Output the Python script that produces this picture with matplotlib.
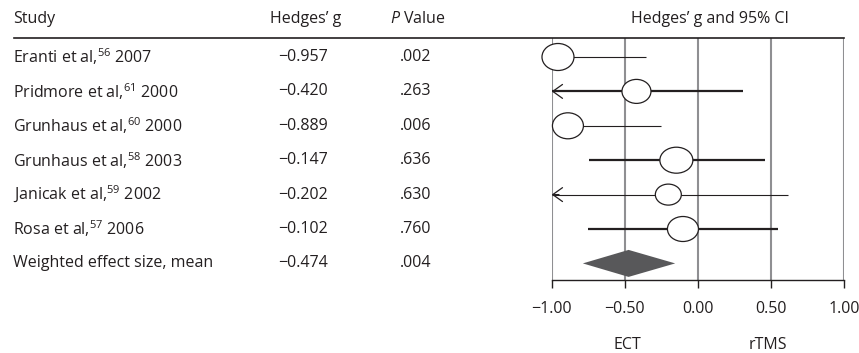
import numpy as np
import matplotlib.pyplot as plt
from matplotlib.patches import Ellipse, Polygon
from matplotlib.lines import Line2D
import matplotlib.transforms as mtransforms

plt.rcParams['font.family'] = ['Open Sans', 'DejaVu Sans']
plt.rcParams['mathtext.fontset'] = 'custom'
plt.rcParams['mathtext.rm'] = 'Open Sans'
plt.rcParams['mathtext.it'] = 'Open Sans:italic'

# Study data
authors = ['Eranti et al,', 'Pridmore et al,', 'Grunhaus et al,', 'Grunhaus et al,',
           'Janicak et al,', 'Rosa et al,']
refs = ['56', '61', '60', '58', '59', '57']
years = ['2007', '2000', '2000', '2003', '2002', '2006']
hedges_g = [-0.957, -0.420, -0.889, -0.147, -0.202, -0.102]
p_values = ['.002', '.263', '.006', '.636', '.630', '.760']
ci_lower = [-0.957, -1.00, -0.889, -0.748, -1.00, -0.755]
ci_upper = [-0.354, 0.308, -0.251, 0.460, 0.616, 0.547]
off_scale = [False, True, False, False, True, False]

pooled_label = 'Weighted effect size, mean'
pooled_g = -0.474
pooled_lower = -0.787
pooled_upper = -0.155
pooled_p = '.004'

ticks = [-1.0, -0.5, 0.0, 0.5, 1.0]

# marker look (pixels) and line weights
circle_px = [(32, 27), (29, 24), (31, 26), (33, 26), (26, 21), (31, 25)]
thick = [False, True, False, True, False, True]

ink = '#231f20'
grid_c = '#8f8f92'

W, H = 859, 353
fig = plt.figure(figsize=(W / 100, H / 100), dpi=100)

ax_l, ax_r, ax_t, ax_b = 551.7, 844.0, 38.0, 280.0
ax = fig.add_axes([ax_l / W, 1 - ax_b / H, (ax_r - ax_l) / W, (ax_b - ax_t) / H])
ax.set_xlim(-1, 1)
row0, row_gap = 57.0, 34.4
ax.set_ylim((ax_b - row0) / row_gap, (ax_t - row0) / row_gap)

fs = 11.5

for s in ['top', 'left', 'right']:
    ax.spines[s].set_visible(False)
ax.spines['bottom'].set_color(ink)
ax.spines['bottom'].set_linewidth(1.0)
ax.set_yticks([])
ax.set_xticks(ticks)
ax.set_xticklabels(['\u22121.00', '\u22120.50', '0.00', '0.50', '1.00'])
ax.tick_params(axis='x', direction='out', length=6, width=1.0, color=ink,
               labelsize=fs, labelcolor=ink, pad=9)

for t in ticks:
    ax.axvline(t, color=grid_c, lw=1.5, zorder=1)

px_per_x = (ax_r - ax_l) / 2.0

for i in range(len(hedges_g)):
    lw = 1.6 if thick[i] else 0.8
    if off_scale[i]:
        ax.plot([ci_lower[i], ci_upper[i]], [i, i], color=ink, lw=lw, zorder=2,
                solid_capstyle='butt')
        # open arrowhead at the clipped end
        ax.annotate('', xy=(ci_lower[i], i), xytext=(ci_lower[i] + 0.05, i),
                    arrowprops=dict(arrowstyle='->,head_length=0.7,head_width=0.5',
                                    lw=0.9, color=ink, shrinkA=0, shrinkB=0),
                    zorder=2)
    else:
        ax.plot([ci_lower[i], ci_upper[i]], [i, i], color=ink, lw=lw, zorder=2,
                solid_capstyle='butt')
    w, h = circle_px[i]
    ax.add_patch(Ellipse((hedges_g[i], i), w / px_per_x, h / row_gap,
                         facecolor='white', edgecolor=ink, lw=0.9, zorder=3,
                         clip_on=False))

n = len(hedges_g)
diamond_h = 27.0 / row_gap
ax.add_patch(Polygon([(pooled_lower, n), (pooled_g, n - diamond_h / 2),
                      (pooled_upper, n), (pooled_g, n + diamond_h / 2)],
                     closed=True, facecolor='#58585a', edgecolor='none', zorder=3))

# table columns on the left
tr = mtransforms.blended_transform_factory(fig.transFigure, ax.transData)
for i in range(n):
    fig.text(13 / W, i, f'{authors[i]}$^{{{refs[i]}}}$ {years[i]}', transform=tr,
             ha='left', va='center', fontsize=fs, color=ink)
    fig.text(328 / W, i, f'\u2212{abs(hedges_g[i]):.3f}', transform=tr,
             ha='right', va='center', fontsize=fs, color=ink)
    fig.text(431 / W, i, p_values[i], transform=tr,
             ha='right', va='center', fontsize=fs, color=ink)
fig.text(13 / W, n, pooled_label, transform=tr, ha='left', va='center',
         fontsize=fs, color=ink)
fig.text(328 / W, n, f'\u2212{abs(pooled_g):.3f}', transform=tr,
         ha='right', va='center', fontsize=fs, color=ink)
fig.text(431 / W, n, pooled_p, transform=tr, ha='right', va='center',
         fontsize=fs, color=ink)

# header row
hy = 1 - 19 / H
fig.text(13 / W, hy, 'Study', ha='left', va='center', fontsize=fs, color=ink)
fig.text(306 / W, hy, 'Hedges\u2019 g', ha='center', va='center', fontsize=fs, color=ink)
fig.text(418 / W, hy, r'$\mathit{P}$ Value', ha='center', va='center', fontsize=fs, color=ink)
fig.text(710 / W, hy, 'Hedges\u2019 g and 95% CI', ha='center', va='center',
         fontsize=fs, color=ink)
fig.add_artist(Line2D([14 / W, ax_r / W], [1 - ax_t / H, 1 - ax_t / H],
                      color=ink, lw=1.2, transform=fig.transFigure))

# favours labels under the axis
tb = mtransforms.blended_transform_factory(ax.transData, fig.transFigure)
fig.text(-0.48, 1 - 345 / H, 'ECT', transform=tb, ha='center', va='center',
         fontsize=fs, color=ink)
fig.text(0.48, 1 - 345 / H, 'rTMS', transform=tb, ha='center', va='center',
         fontsize=fs, color=ink)

fig.savefig('out.png', dpi=100)
